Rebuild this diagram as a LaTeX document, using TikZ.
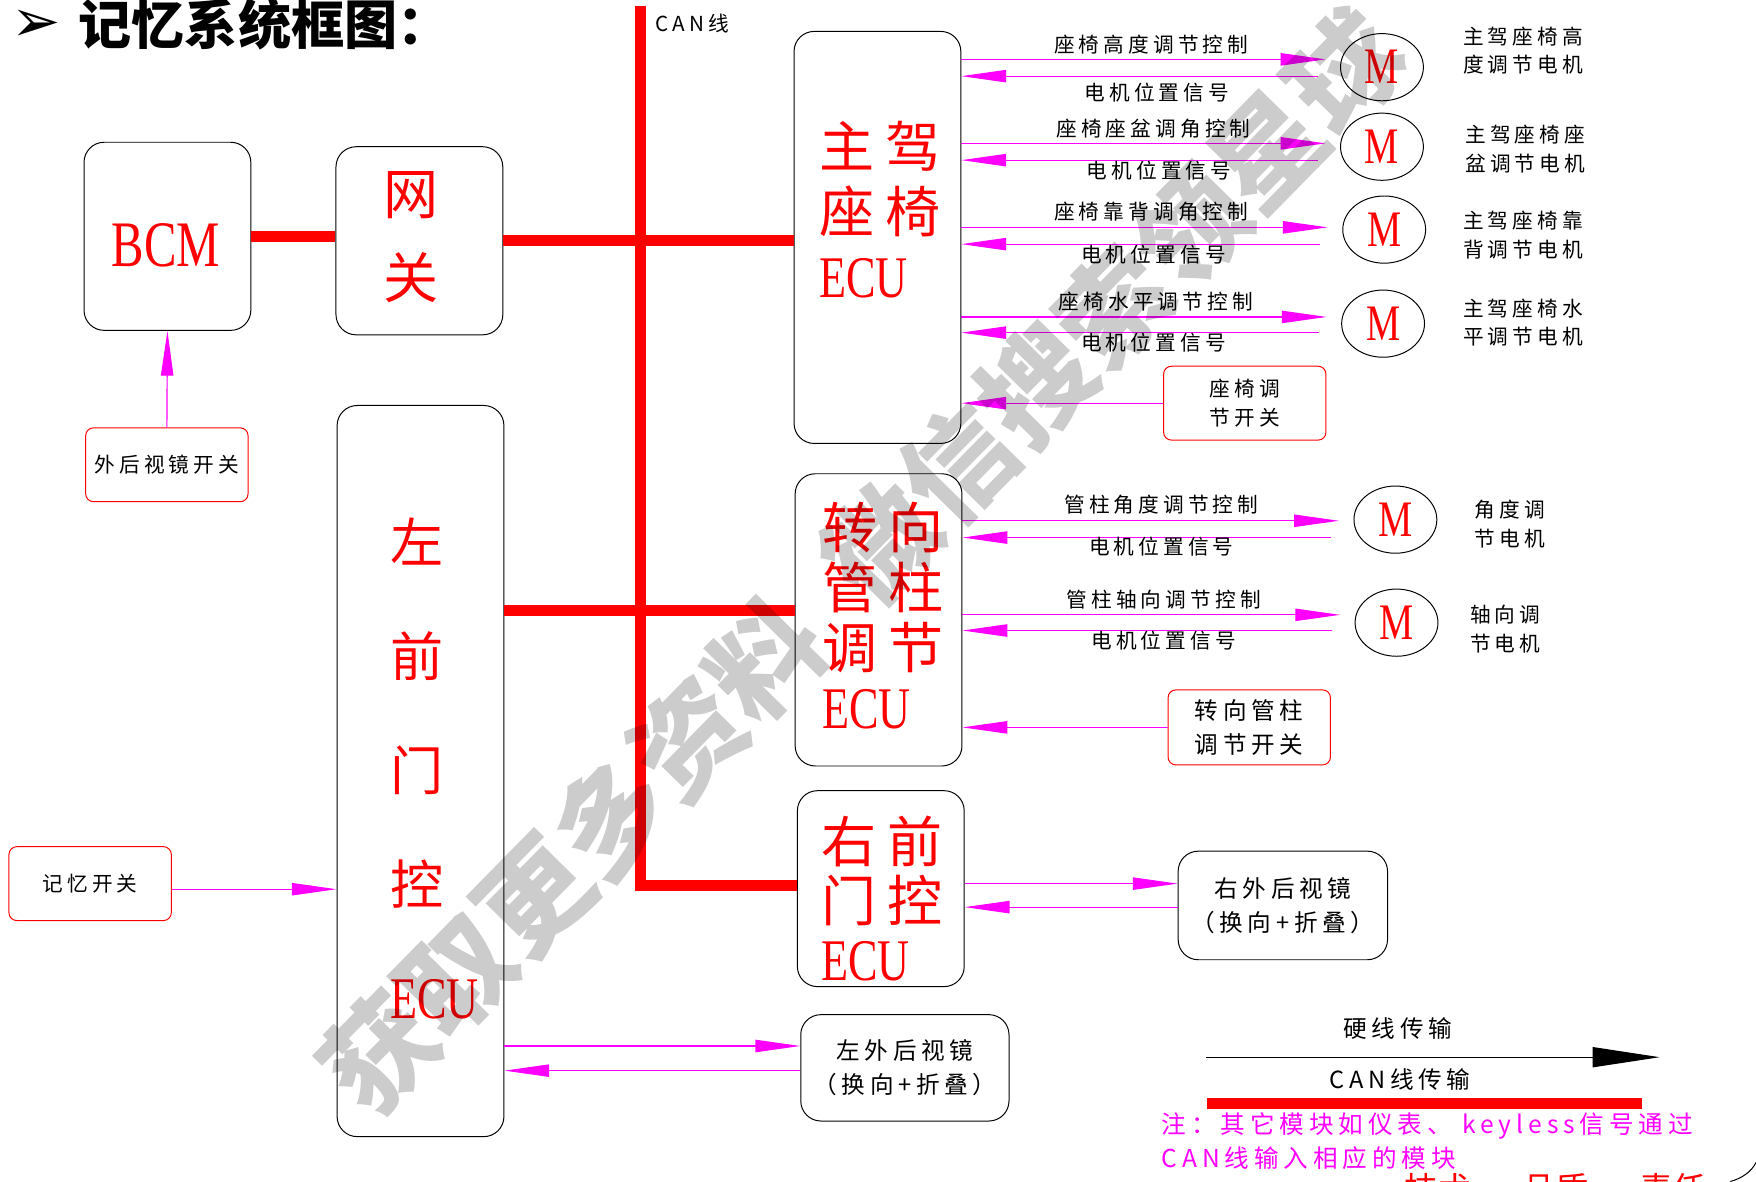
\documentclass[tikz,border=0pt]{standalone}
\usepackage{fontspec}
\setmainfont{Liberation Serif}
\newfontfamily\hzfont{Noto Sans CJK SC}
\newfontfamily\hzsp{Noto Sans CJK SC}[LetterSpace=20]
\newfontfamily\latn{Liberation Serif}[FakeStretch=0.75]
\newfontfamily\dvfont{DejaVu Sans}
\newcommand\lblfont{\hzsp\fontsize{10.5}{14.5}\selectfont}
\usetikzlibrary{arrows.meta,shapes.geometric}
\definecolor{sigmag}{RGB}{255,0,255}
\definecolor{canred}{RGB}{255,0,0}

\begin{document}
\begin{tikzpicture}[x=0.02cm,y=-0.02cm,
    ecubox/.style={draw,rounded corners=0.36cm,line width=0.5pt,minimum width=2.98cm},
    swbox/.style={draw=canred,rounded corners=0.14cm,line width=0.5pt,minimum width=2.9cm,minimum height=1.32cm,align=center,font=\lblfont},
    mirbox/.style={draw,rounded corners=0.36cm,line width=0.5pt,align=center,font=\hzsp\fontsize{12}{17}\selectfont},
    motor/.style={draw,ellipse,line width=0.5pt,minimum width=1.48cm,minimum height=1.2cm,inner sep=0pt,text=canred,font=\latn\fontsize{26}{26}\selectfont},
    ecutxt/.style={text=canred,align=left,inner sep=0pt},
    ctl/.style={font=\lblfont,align=left},
    sig/.style={sigmag,line width=0.6pt,-{Triangle[length=0.8cm,width=0.22cm]}},
    fwd/.style={sig,shorten >=0.26cm},
    bck/.style={sig,shorten <=0.4cm},
    can/.style={canred,line width=0.2cm}]
\useasboundingbox (0,0) rectangle (1568,1055);
\fill[white] (0,0) rectangle (1568,1055);
\clip (0,0) rectangle (1568,1055);

% title
\node[font=\dvfont\fontsize{30}{30}\selectfont] (tarrow) at (32,23) {➢};
\node[anchor=west,font=\hzfont\bfseries\fontsize{27}{27}\selectfont] (title) at (64,22) {记忆系统框图：};

% modules
\node[ecubox,minimum height=3.36cm] (bcm) at (149.5,211) {};
\node[ecubox,minimum height=3.36cm] (gw) at (374.5,215) {};
\node[ecubox,minimum height=7.36cm] (seat) at (783.5,212) {};
\node[ecubox,minimum height=5.22cm] (col) at (784.5,553.5) {};
\node[ecubox,minimum height=3.5cm] (rdoor) at (786.5,793.5) {};
\node[ecubox,minimum height=13.06cm] (ldoor) at (375.5,688.5) {};

\node[text=canred,font=\latn\fontsize{33}{33}\selectfont] (bcmtxt) at (148,219) {BCM};
\node[ecutxt,align=center,font=\hzfont\fontsize{28}{42.5}\selectfont] (gwtxt) at (367,212) {网\\关};
\node[ecutxt,anchor=west,font=\hzsp\fontsize{28}{33}\selectfont] (seattxt) at (731,187) {主驾\\座椅\\{\latn\fontsize{30}{33}\selectfont ECU}};
\node[ecutxt,anchor=west,font=\hzsp\fontsize{28}{30.5}\selectfont] (coltxt) at (734,550) {转向\\管柱\\调节\\{\latn\fontsize{30}{30.5}\selectfont ECU}};
\node[ecutxt,anchor=west,font=\hzsp\fontsize{28}{30}\selectfont] (rdoortxt) at (733,802) {右前\\门控\\{\latn\fontsize{30}{30}\selectfont ECU}};
\node[ecutxt,anchor=west,font=\hzfont\fontsize{27}{58}\selectfont] (ldoortxt) at (348,686) {左\\前\\门\\控\\{\latn\fontsize{30}{58}\selectfont ECU}};

% switches and mirrors
\node[swbox] (mirsw) at (149,415) {外后视镜开关};
\node[swbox] (memsw) at (80.5,789) {记忆开关};
\node[swbox] (seatsw) at (1111.5,360) {座椅调\\节开关};
\node[swbox,minimum height=1.34cm,font=\hzsp\fontsize{12}{17}\selectfont] (colsw) at (1115.5,649.5) {转向管柱\\调节开关};
\node[mirbox,minimum width=3.74cm,minimum height=1.94cm] (rmir) at (1145.5,808.5) {右外后视镜\\（换向+折叠）};
\node[mirbox,minimum width=3.72cm,minimum height=1.9cm] (lmir) at (808,953.5) {左外后视镜\\（换向+折叠）};

% motors
\node[motor] (m1) at (1234,60) {M};
\node[motor] (m2) at (1234,131) {M};
\node[motor] (m3) at (1236,205) {M};
\node[motor] (m4) at (1235,289) {M};
\node[motor] (m5) at (1246,464) {M};
\node[motor] (m6) at (1247,556) {M};

\node[ctl] at (1360,45) {主驾座椅高\\度调节电机};
\node[ctl] at (1362,133) {主驾座椅座\\盆调节电机};
\node[ctl] at (1360,210) {主驾座椅靠\\背调节电机};
\node[ctl] at (1360,288) {主驾座椅水\\平调节电机};
\node[ctl] at (1348,468) {角度调\\节电机};
\node[ctl] at (1344,562) {轴向调\\节电机};

% CAN bus
\coordinate (cantop) at (572,5);
\node[anchor=west,font=\lblfont] (canlbl) at (579,21) {CAN线};
\draw[can] (cantop) -- (cantop |- 0,791) -- (rdoor.west |- 0,791);
\draw[can] (bcm.east) -- (gw.west |- bcm.east);
\draw[can] (gw.east) -- (seat.west |- gw.east);
\draw[can] (ldoor.east |- 0,545) -- (col.west |- 0,545);

% seat ECU signals
\draw[fwd] (seat.east |- 0,53) -- (m1.west |- 0,53);
\draw[bck] (m1.west |- 0,68) -- (seat.east |- 0,68);
\draw[fwd] (seat.east |- 0,128) -- (m2.west |- 0,128);
\draw[bck] (m2.west |- 0,143) -- (seat.east |- 0,143);
\draw[fwd] (seat.east |- 0,203) -- (m3.west |- 0,203);
\draw[bck] (m3.west |- 0,218) -- (seat.east |- 0,218);
\draw[fwd] (seat.east |- 0,283) -- (m4.west |- 0,283);
\draw[bck] (m4.west |- 0,297) -- (seat.east |- 0,297);
\draw[sig] (seatsw.west) -- (seat.east |- seatsw.west);
\node[ctl] at (1028,40) {座椅高度调节控制};
\node[ctl] at (1033,83) {电机位置信号};
\node[ctl] at (1030,115) {座椅座盆调角控制};
\node[ctl] at (1035,152) {电机位置信号};
\node[ctl] at (1028,189) {座椅靠背调角控制};
\node[ctl] at (1030,227) {电机位置信号};
\node[ctl] at (1032,269) {座椅水平调节控制};
\node[ctl] at (1030,306) {电机位置信号};

% steering column signals
\draw[fwd] (col.east |- 0,465) -- (m5.west |- 0,465);
\draw[bck] (m5.west |- 0,480) -- (col.east |- 0,480);
\draw[fwd] (col.east |- 0,549) -- (m6.west |- 0,549);
\draw[bck] (m6.west |- 0,563) -- (col.east |- 0,563);
\draw[sig] (colsw.west) -- (col.east |- colsw.west);
\node[ctl] at (1037,451) {管柱角度调节控制};
\node[ctl] at (1037,488) {电机位置信号};
\node[ctl] at (1039,535) {管柱轴向调节控制};
\node[ctl] at (1039,572) {电机位置信号};

% door signals
\draw[sig] (rdoor.east |- 0,789) -- (rmir.west |- 0,789);
\draw[sig] (rmir.west |- 0,810) -- (rdoor.east |- 0,810);
\draw[sig] (ldoor.east |- 0,934) -- (lmir.west |- 0,934);
\draw[sig] (lmir.west |- 0,956) -- (ldoor.east |- 0,956);
\draw[sig] (memsw.east |- 0,794) -- (ldoor.west |- 0,794);
\draw[sig] (mirsw.north) -- (bcm.south);

% legend
\node[font=\hzsp\fontsize{12}{14}\selectfont] (hwlbl) at (1248,918) {硬线传输};
\coordinate (hwa) at (1077,944);
\coordinate (hwb) at (1482,944);
\draw[line width=0.6pt,-{Triangle[length=1.2cm,width=0.36cm]}] (hwa) -- (hwb);
\node[font=\hzsp\fontsize{12}{14}\selectfont] (canleg) at (1250,964) {CAN线传输};
\coordinate (cla) at (1078,985);
\coordinate (clb) at (1466,985);
\draw[can] (cla) -- (clb);
\node[anchor=west,text=sigmag,align=left,font=\hzsp\fontsize{12.5}{17}\selectfont] (note) at (1031,1019) {注：其它模块如仪表、 keyless信号通过\\CAN线输入相应的模块};

% cut-off footer and frame corner
\node[anchor=north west,inner sep=0pt,text=canred,font=\hzfont\fontsize{17}{17}\selectfont] (foot) at (1254,1047) {技术\hspace{0.9cm}品质\hspace{0.9cm}责任};
\draw[line width=0.5pt] (1545,1055) .. controls (1556,1052) and (1564,1046) .. (1568,1038);

% watermark
\node[rotate=45.5,text=black,opacity=0.2,font=\hzfont\bfseries\fontsize{56}{56}\selectfont] (wm) at (770,502) {获取更多资料\hspace{0.5em}微信搜索领星球};
\end{tikzpicture}
\end{document}
